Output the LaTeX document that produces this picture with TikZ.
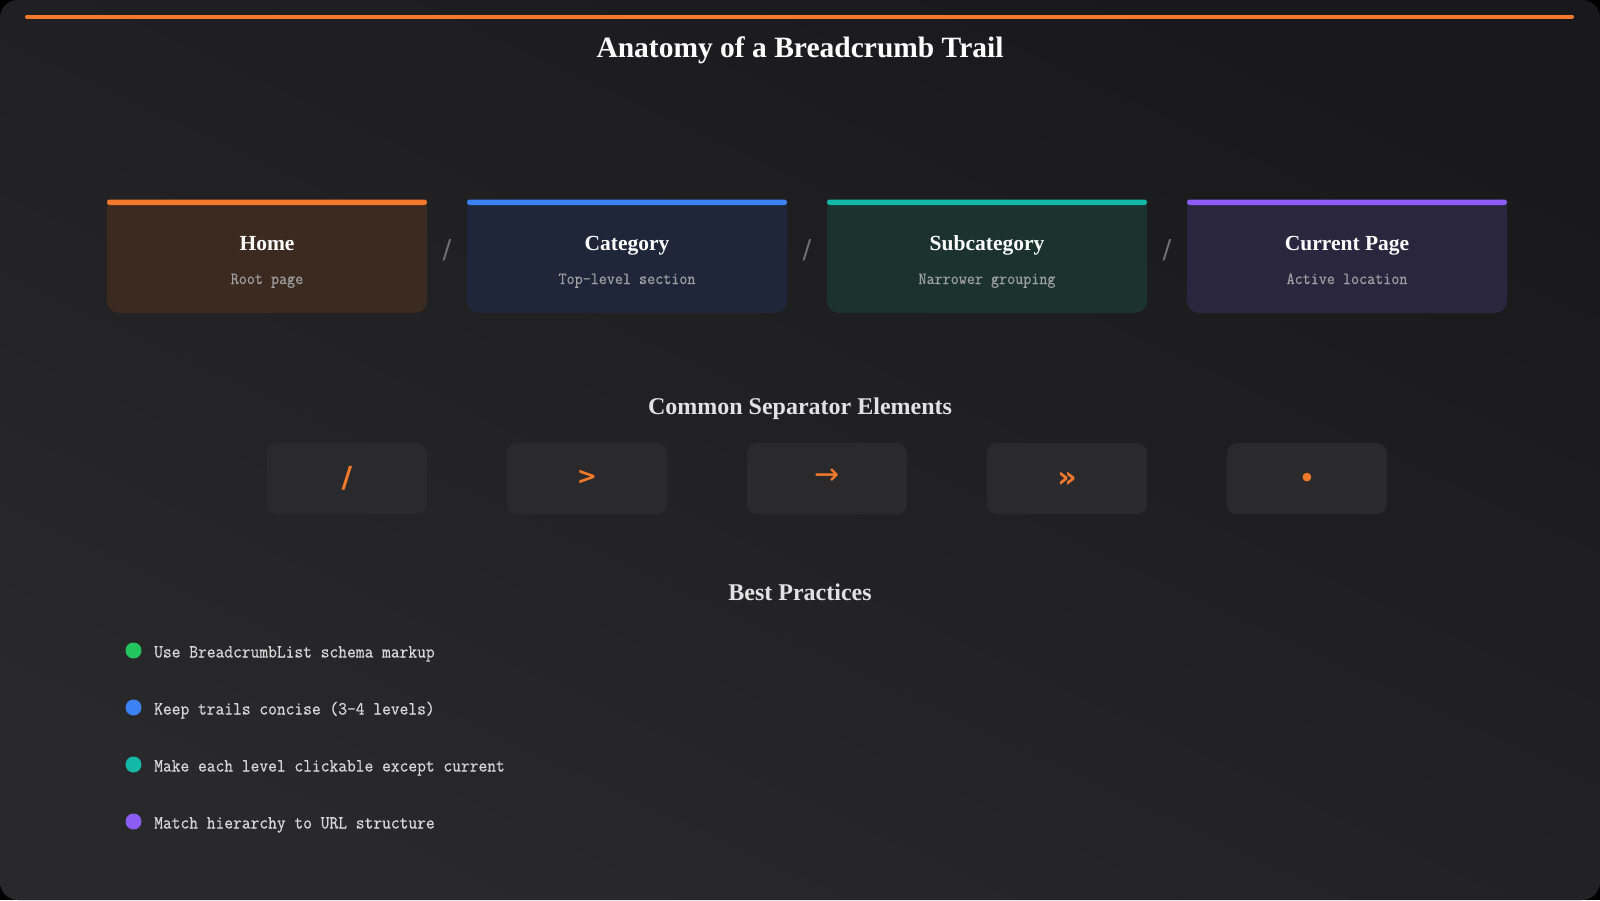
\documentclass[tikz,border=0pt]{standalone}
\usepackage{fontspec}
\setmainfont{Liberation Serif}
\newfontfamily\monof[FakeStretch=0.92,FakeBold=0.5]{Latin Modern Mono}
\newfontfamily\symf{DejaVu Sans}
\definecolor{bgA}{HTML}{19191B}
\definecolor{bgB}{HTML}{29292B}
\definecolor{orangec}{HTML}{F37A2B}
\definecolor{bluec}{HTML}{3B82F6}
\definecolor{tealc}{HTML}{14B8A6}
\definecolor{purplec}{HTML}{8B5CF6}
\definecolor{greenc}{HTML}{22C55E}
\definecolor{homefill}{HTML}{3A2A1F}
\definecolor{catfill}{HTML}{1F2639}
\definecolor{subfill}{HTML}{1B322E}
\definecolor{curfill}{HTML}{2A263E}
\definecolor{boxfill}{HTML}{2A2A2C}
\definecolor{subgray}{HTML}{A0A0A0}
\definecolor{headgray}{HTML}{E2E2E2}
\definecolor{listgray}{HTML}{D8D8D8}
\definecolor{sepgray}{HTML}{707072}
\begin{document}
\begin{tikzpicture}[x=1pt,y=-1pt,
  cardtitle/.style={anchor=base, inner sep=0pt, text=white, font=\bfseries\fontsize{21.5}{26}\selectfont},
  cardsub/.style={anchor=base, inner sep=0pt, text=subgray, font=\monof\fontsize{17}{20}\selectfont},
  cardsep/.style={inner sep=0pt, text=sepgray, font=\symf\fontsize{26}{30}\selectfont},
  header/.style={anchor=base, inner sep=0pt, text=headgray, font=\bfseries\fontsize{24}{28}\selectfont},
  sepbox/.style={rectangle, rounded corners=10pt, fill=boxfill, minimum width=160pt, minimum height=71pt, inner sep=0pt},
  sepsym/.style={inner sep=0pt, text=orangec, font=\symf\bfseries\fontsize{24}{28}\selectfont},
  bulletdot/.style={circle, inner sep=0pt, minimum size=16pt},
  listtext/.style={anchor=base west, inner sep=0pt, text=listgray, font=\monof\fontsize{18.5}{21}\selectfont}
]
\useasboundingbox (0,0) rectangle (1600,900);
\fill[black] (0,0) rectangle (1600,900);
\shade[rounded corners=18pt, top color=bgA, bottom color=bgB, shading angle=-25] (0,0) rectangle (1600,900);

% top accent line
\coordinate (topL) at (27,16.5);
\coordinate (topR) at (1572,16.5);
\draw[orangec, line width=4pt, line cap=round] (topL) -- (topR);

% title
\node[anchor=base, inner sep=0pt, text=white, font=\bfseries\fontsize{29.5}{34}\selectfont] (title) at (800,57) {Anatomy of a Breadcrumb Trail};

% cards
\foreach \x/\fc/\bc/\n/\t/\s in {
  107/homefill/orangec/home/Home/Root page,
  467/catfill/bluec/cat/Category/Top-level section,
  827/subfill/tealc/sub/Subcategory/Narrower grouping,
  1187/curfill/purplec/cur/Current Page/Active location}{
  \fill[\fc, rounded corners=12pt] (\x,200) rectangle ++(320,113);
  \fill[\fc] (\x,200) rectangle ++(320,40);
  \fill[\bc, rounded corners=2.6pt] (\x,199.5) rectangle ++(320,5.5);
  \node[cardtitle] (\n-t) at (\x+160,250.5) {\t};
  \node[cardsub] (\n-s) at (\x+160,284) {\s};
}
\node[cardsep] (sepA) at (447,250) {/};
\node[cardsep] (sepB) at (807,250) {/};
\node[cardsep] (sepC) at (1167,250) {/};

% separator elements
\node[header] (sephead) at (800,414) {Common Separator Elements};
\node[sepbox] (b1) at (347,478.5) {};
\node[sepbox] (b2) at (587,478.5) {};
\node[sepbox] (b3) at (827,478.5) {};
\node[sepbox] (b4) at (1067,478.5) {};
\node[sepbox] (b5) at (1307,478.5) {};
\node[sepsym, font=\symf\bfseries\fontsize{29}{32}\selectfont] (s1) at (b1.center) {/};
\node[sepsym] (s2) at ([yshift=1pt]b2.center) {>};
\node[sepsym, font=\symf\fontsize{30}{32}\selectfont] (s3) at ([yshift=2pt]b3.center) {→};
\node[sepsym, font=\symf\bfseries\fontsize{30}{32}\selectfont] (s4) at ([yshift=-1pt]b4.center) {»};
\node[sepsym] (s5) at ([yshift=-1pt]b5.center) {•};

% best practices
\node[header] (bphead) at (800,600) {Best Practices};
\foreach \y/\c/\n/\t in {
  650.5/greenc/p1/Use BreadcrumbList schema markup,
  707.5/bluec/p2/Keep trails concise (3-4 levels),
  764.5/tealc/p3/Make each level clickable except current,
  821.5/purplec/p4/Match hierarchy to URL structure}{
  \node[bulletdot, fill=\c] (\n-d) at (133.5,\y) {};
  \node[listtext] (\n-t) at (154,\y+7) {\t};
}
\end{tikzpicture}
\end{document}
